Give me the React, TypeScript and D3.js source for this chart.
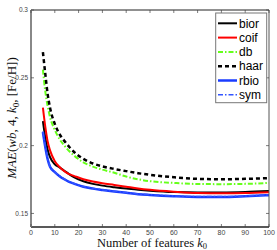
import React from "react";
import * as d3 from "d3";

const K = [5, 6, 7, 8, 10, 12, 14, 16, 18, 22, 26, 30, 35, 40, 45, 50, 60, 70, 80, 90, 100];

const bior = [0.218, 0.206, 0.197, 0.1915, 0.1862, 0.184, 0.1815, 0.179, 0.1768, 0.1737, 0.1718, 0.1705, 0.1693, 0.1683, 0.1675, 0.1668, 0.1658, 0.1655, 0.1655, 0.1658, 0.1665];
const coif = [0.228, 0.214, 0.203, 0.1965, 0.1885, 0.1842, 0.1812, 0.179, 0.1777, 0.1752, 0.1735, 0.1722, 0.171, 0.1697, 0.1684, 0.1674, 0.166, 0.165, 0.1648, 0.165, 0.1656];
const db = [0.256, 0.24, 0.229, 0.221, 0.2115, 0.2048, 0.2, 0.196, 0.1928, 0.1877, 0.1845, 0.1823, 0.18, 0.1772, 0.1752, 0.1738, 0.1725, 0.1717, 0.1716, 0.1718, 0.1725];
const haar = [0.269, 0.253, 0.238, 0.228, 0.216, 0.2085, 0.2035, 0.1992, 0.1955, 0.1902, 0.1868, 0.1847, 0.1828, 0.1812, 0.1797, 0.1785, 0.1767, 0.1755, 0.1752, 0.1755, 0.176];
const rbio = [0.21, 0.199, 0.19, 0.1845, 0.1805, 0.1775, 0.1752, 0.1733, 0.172, 0.1697, 0.1683, 0.1673, 0.1662, 0.1652, 0.1642, 0.1636, 0.1627, 0.1622, 0.1622, 0.1627, 0.1635];
const sym = [0.2105, 0.1993, 0.1903, 0.1848, 0.1808, 0.1777, 0.1754, 0.1735, 0.1722, 0.1699, 0.1685, 0.1675, 0.1664, 0.1654, 0.1644, 0.1638, 0.1629, 0.1624, 0.1624, 0.1629, 0.1637];

const xTicks = [0, 10, 20, 30, 40, 50, 60, 70, 80, 90, 100];
const yTicks = [0.15, 0.2, 0.25, 0.3];

const series = [
  { name: "bior", values: bior, color: "#000000", dash: "", width: 2 },
  { name: "coif", values: coif, color: "#ff0000", dash: "", width: 2 },
  { name: "db", values: db, color: "#66ff1a", dash: "5,2,1.5,2", width: 2 },
  { name: "haar", values: haar, color: "#000000", dash: "4,3", width: 2.5 },
  { name: "rbio", values: rbio, color: "#1a3cff", dash: "", width: 2.5 },
  { name: "sym", values: sym, color: "#3355ff", dash: "5,2,1.5,2", width: 1.5 },
];

const L = 31, R = 269, T = 10, B = 227;

export default function App() {
  const x = d3.scaleLinear().domain([0, 100]).range([L, R]);
  const y = d3.scaleLinear().domain([0.14, 0.3]).range([B, T]);
  const line = (vals: number[]) =>
    d3.line<number>().x((_, i) => x(K[i])).y((v) => y(v)).curve(d3.curveMonotoneX)(vals) || "";
  const lg = { x: 215.7, y: 13, w: 51, h: 89.7 };
  return (
    <svg width={277} height={250} style={{ position: "absolute", left: 0, top: 0 }}>
      <rect width={277} height={250} fill="#fff" />
      <defs>
        <clipPath id="plot"><rect x={L} y={T} width={R - L} height={B - T} /></clipPath>
      </defs>
      <g clipPath="url(#plot)">
        {series.map((s) => (
          <path key={s.name} d={line(s.values)} fill="none" stroke={s.color} strokeWidth={s.width} strokeDasharray={s.dash || undefined} />
        ))}
      </g>
      {/* box */}
      <line x1={L} x2={R} y1={T} y2={T} stroke="#222" strokeWidth={1} />
      <line x1={R} x2={R} y1={T} y2={B} stroke="#555" strokeWidth={1} />
      <line x1={L} x2={R} y1={B} y2={B} stroke="#222" strokeWidth={1.5} />
      <line x1={L} x2={L} y1={T} y2={B} stroke="#888" strokeWidth={2} />
      {xTicks.map((t) => (
        <g key={"x" + t}>
          <line x1={x(t)} x2={x(t)} y1={B} y2={B - 3} stroke="#444" strokeWidth={0.7} />
          <line x1={x(t)} x2={x(t)} y1={T} y2={T + 3} stroke="#444" strokeWidth={0.7} />
          <text x={x(t)} y={235} fontSize={7} fill="#444" textAnchor="middle" fontFamily="Liberation Sans, Arial, sans-serif">{t}</text>
        </g>
      ))}
      {yTicks.map((t) => (
        <g key={"y" + t}>
          <line x1={L} x2={L + 3} y1={y(t)} y2={y(t)} stroke="#444" strokeWidth={0.7} />
          <line x1={R} x2={R - 3} y1={y(t)} y2={y(t)} stroke="#444" strokeWidth={0.7} />
          <text x={28} y={y(t) + 2.3} fontSize={6.5} fill="#444" textAnchor="end" fontFamily="Liberation Sans, Arial, sans-serif">{String(t)}</text>
        </g>
      ))}
      {/* legend */}
      <rect x={lg.x} y={lg.y} width={lg.w} height={lg.h} fill="#fff" stroke="#777" strokeWidth={1} />
      {series.map((s, i) => {
        const cy = 23.3 + i * 14.3;
        return (
          <g key={"lg" + s.name}>
            <line x1={218} x2={237} y1={cy} y2={cy} stroke={s.color} strokeWidth={s.width} strokeDasharray={s.dash || undefined} />
            <text x={239} y={cy + 4.2} fontSize={12} fill="#000" fontFamily="Liberation Sans, Arial, sans-serif">{s.name}</text>
          </g>
        );
      })}
      {/* axis labels */}
      <text x={152} y={246.5} fontSize={12.5} textAnchor="middle" fontFamily="Liberation Serif, Times New Roman, serif" fill="#111">
        Number of features <tspan fontStyle="italic">k</tspan><tspan fontSize={8.5} dy={2}>0</tspan>
      </text>
      <text transform="translate(16,118) rotate(-90)" fontSize={13} textAnchor="middle" fontFamily="Liberation Serif, Times New Roman, serif" fill="#111">
        <tspan fontStyle="italic">MAE</tspan>(<tspan fontStyle="italic">wb</tspan>, 4, <tspan fontStyle="italic">k</tspan><tspan fontSize={9} dy={3}>0</tspan><tspan dy={-3}>, [Fe/H])</tspan>
      </text>
    </svg>
  );
}
